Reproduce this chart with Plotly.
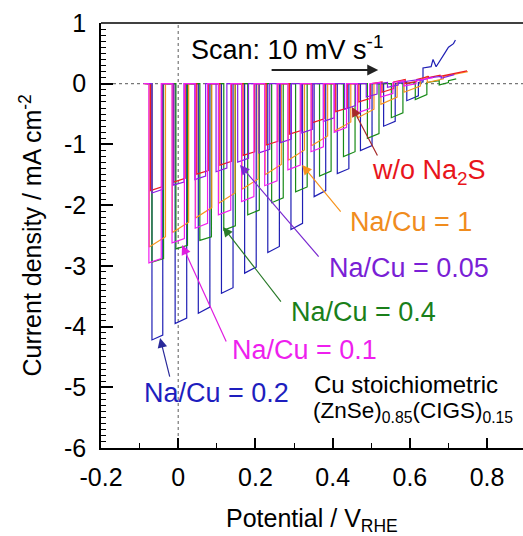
import plotly.graph_objects as go

# ---------------- data ----------------
# light-on / light-off potentials (V vs RHE), photocurrent at light on / off, dark current (mA cm-2)
blue_on = [-0.068, -0.008, 0.052, 0.112, 0.172, 0.232, 0.292, 0.352, 0.412, 0.472, 0.532, 0.592]
blue_off = [-0.040, 0.022, 0.082, 0.142, 0.202, 0.262, 0.322, 0.382, 0.442, 0.502, 0.562, 0.622]
blue_jon = [-4.22, -3.95, -3.78, -3.45, -3.12, -2.78, -2.40, -1.86, -1.48, -1.10, -0.70, -0.28]
blue_joff = [-4.14, -3.86, -3.68, -3.36, -3.02, -2.68, -2.30, -1.76, -1.40, -1.02, -0.62, -0.20]
blue_dark = [0.0, 0.0, 0.0, 0.0, 0.0, 0.0, 0.0, 0.0, 0.0, 0.0, 0.0, 0.02]
blue_lead_x, blue_lead_y = [-0.085], [0.0]
blue_tail_x = [0.634, 0.634, 0.655, 0.660, 0.668, 0.690, 0.700, 0.713, 0.718]
blue_tail_y = [0.03, 0.26, 0.28, 0.40, 0.28, 0.50, 0.60, 0.66, 0.72]

green_on = [-0.068, -0.006, 0.056, 0.118, 0.180, 0.242, 0.304, 0.366, 0.428, 0.490, 0.552, 0.614, 0.676]
green_off = [-0.038, 0.024, 0.086, 0.148, 0.210, 0.272, 0.334, 0.396, 0.458, 0.520, 0.582, 0.644, 0.700]
green_jon = [-2.94, -2.72, -2.58, -2.41, -2.16, -1.96, -1.78, -1.52, -1.20, -0.90, -0.56, -0.26, -0.02]
green_joff = [-2.88, -2.66, -2.52, -2.34, -2.08, -1.88, -1.70, -1.44, -1.12, -0.82, -0.48, -0.18, 0.02]
green_dark = [0.0, 0.0, 0.0, 0.0, 0.0, 0.0, 0.0, 0.0, 0.0, 0.0, 0.0, 0.02, 0.05]
green_lead_x, green_lead_y = [-0.082], [0.0]
green_tail_x, green_tail_y = [0.720], [0.08]

orange_on = [-0.075, -0.015, 0.045, 0.105, 0.165, 0.225, 0.285, 0.345, 0.405, 0.465, 0.525, 0.585, 0.645]
orange_off = [-0.033, 0.027, 0.087, 0.147, 0.207, 0.267, 0.327, 0.387, 0.447, 0.507, 0.567, 0.627, 0.687]
orange_jon = [-2.69, -2.45, -2.21, -1.97, -1.74, -1.50, -1.26, -1.02, -0.78, -0.56, -0.34, -0.14, 0.02]
orange_joff = [-2.52, -2.28, -2.04, -1.80, -1.57, -1.33, -1.09, -0.86, -0.63, -0.42, -0.22, -0.04, 0.08]
orange_dark = [0.0, 0.0, 0.0, 0.0, 0.0, 0.0, 0.0, 0.0, 0.0, 0.0, 0.02, 0.06, 0.12]
orange_lead_x, orange_lead_y = [-0.088], [0.0]
orange_tail_x, orange_tail_y = [0.750], [0.20]

red_on = [-0.072, -0.012, 0.048, 0.108, 0.168, 0.228, 0.288, 0.348, 0.408, 0.468, 0.528, 0.588, 0.648]
red_off = [-0.042, 0.018, 0.078, 0.138, 0.198, 0.258, 0.318, 0.378, 0.438, 0.498, 0.558, 0.618, 0.678]
red_jon = [-1.76, -1.62, -1.49, -1.34, -1.18, -1.01, -0.83, -0.64, -0.46, -0.30, -0.14, 0.00, 0.10]
red_joff = [-1.70, -1.56, -1.43, -1.28, -1.12, -0.95, -0.77, -0.58, -0.40, -0.24, -0.08, 0.04, 0.14]
red_dark = [0.0, 0.0, 0.0, 0.0, 0.0, 0.0, 0.0, 0.0, 0.0, 0.0, 0.03, 0.07, 0.12]
red_lead_x, red_lead_y = [-0.085], [0.0]
red_tail_x, red_tail_y = [0.748], [0.21]

purple_on = [-0.068, -0.013, 0.043, 0.098, 0.154, 0.209, 0.265, 0.320, 0.376, 0.431, 0.487, 0.542, 0.598, 0.653]
purple_off = [-0.040, 0.015, 0.071, 0.126, 0.182, 0.237, 0.293, 0.348, 0.404, 0.459, 0.515, 0.570, 0.626, 0.681]
purple_jon = [-1.80, -1.67, -1.58, -1.45, -1.29, -1.14, -0.97, -0.81, -0.62, -0.42, -0.22, -0.06, 0.04, 0.10]
purple_joff = [-1.74, -1.62, -1.52, -1.39, -1.23, -1.08, -0.91, -0.75, -0.56, -0.36, -0.17, -0.02, 0.07, 0.12]
purple_dark = [0.0, 0.0, 0.0, 0.0, 0.0, 0.0, 0.0, 0.0, 0.0, 0.0, 0.0, 0.02, 0.05, 0.09]
purple_lead_x, purple_lead_y = [-0.080], [0.0]
purple_tail_x, purple_tail_y = [0.715], [0.15]

magenta_on = [-0.076, -0.016, 0.044, 0.104, 0.164, 0.224, 0.284, 0.344, 0.404, 0.464, 0.524, 0.584]
magenta_off = [-0.044, 0.016, 0.076, 0.136, 0.196, 0.256, 0.316, 0.376, 0.436, 0.496, 0.556, 0.616]
magenta_jon = [-2.95, -2.62, -2.38, -2.16, -1.94, -1.68, -1.42, -1.12, -0.80, -0.48, -0.22, -0.04]
magenta_joff = [-2.88, -2.55, -2.30, -2.08, -1.86, -1.60, -1.34, -1.04, -0.72, -0.41, -0.16, 0.00]
magenta_dark = [0.0, 0.0, 0.0, 0.0, 0.0, 0.0, 0.0, 0.0, 0.0, 0.0, 0.02, 0.05]
magenta_lead_x, magenta_lead_y = [-0.090], [0.0]
magenta_tail_x, magenta_tail_y = [0.660], [0.10]

x_tickvals = [-0.2, 0, 0.2, 0.4, 0.6, 0.8]
x_ticktext = ["-0.2", "0", "0.2", "0.4", "0.6", "0.8"]
y_tickvals = [1, 0, -1, -2, -3, -4, -5, -6]
y_ticktext = ["1", "0", "-1", "-2", "-3", "-4", "-5", "-6"]


def chopped(lead_x, lead_y, on, off, jon, joff, dark, tail_x, tail_y):
    xs, ys = list(lead_x), list(lead_y)
    for i in range(len(on)):
        xs += [on[i], on[i], off[i], off[i]]
        ys += [dark[i], jon[i], joff[i], dark[i]]
    xs += tail_x
    ys += tail_y
    return xs, ys


series = [
    ("Na/Cu = 0.2", "#1f1fb4", blue_lead_x, blue_lead_y, blue_on, blue_off, blue_jon, blue_joff, blue_dark, blue_tail_x, blue_tail_y),
    ("Na/Cu = 0.4", "#178a17", green_lead_x, green_lead_y, green_on, green_off, green_jon, green_joff, green_dark, green_tail_x, green_tail_y),
    ("Na/Cu = 1", "#f7941d", orange_lead_x, orange_lead_y, orange_on, orange_off, orange_jon, orange_joff, orange_dark, orange_tail_x, orange_tail_y),
    ("w/o Na2S", "#ed1c24", red_lead_x, red_lead_y, red_on, red_off, red_jon, red_joff, red_dark, red_tail_x, red_tail_y),
    ("Na/Cu = 0.05", "#8a1ee6", purple_lead_x, purple_lead_y, purple_on, purple_off, purple_jon, purple_joff, purple_dark, purple_tail_x, purple_tail_y),
    ("Na/Cu = 0.1", "#f01ef0", magenta_lead_x, magenta_lead_y, magenta_on, magenta_off, magenta_jon, magenta_joff, magenta_dark, magenta_tail_x, magenta_tail_y),
]

fig = go.Figure()
for name, color, lx, ly, on, off, jon, joff, dark, tx, ty in series:
    xs, ys = chopped(lx, ly, on, off, jon, joff, dark, tx, ty)
    fig.add_trace(go.Scatter(x=xs, y=ys, mode="lines", name=name,
                             line=dict(color=color, width=1.2), showlegend=False))

FONT = "Liberation Sans, Arial, sans-serif"

# reference dashed lines
fig.add_shape(type="line", xref="paper", yref="y", x0=0, x1=1, y0=0, y1=0,
              line=dict(color="#777777", width=1.2, dash="dot"), layer="below")
fig.add_shape(type="line", xref="x", yref="paper", x0=0, x1=0, y0=0, y1=1,
              line=dict(color="#777777", width=1.2, dash="dot"), layer="below")
# top frame line
fig.add_shape(type="line", xref="paper", yref="paper", x0=0, x1=1, y0=1, y1=1,
              line=dict(color="black", width=1.5))

annots = [
    ("Scan: 10 mV s<sup>-1</sup>", 0.028, 0.588, "black", 27),
    ("w/o Na<sub>2</sub>S", 0.497, -1.454, "#e8151b", 27),
    ("Na/Cu = 1", 0.440, -2.278, "#f08c1e", 27),
    ("Na/Cu = 0.05", 0.385, -3.036, "#7a1fd6", 27),
    ("Na/Cu = 0.4", 0.287, -3.760, "#1a7f1a", 27),
    ("Na/Cu = 0.1", 0.134, -4.386, "#ee1fee", 27),
    ("Na/Cu = 0.2", -0.094, -5.095, "#1e1ebe", 27),
    ("Cu stoichiometric", 0.347, -4.946, "black", 24),
    ("(ZnSe)<sub>0.85</sub>(CIGS)<sub>0.15</sub>", 0.343, -5.410, "black", 22.5),
]
for t, x, y, c, s in annots:
    fig.add_annotation(x=x, y=y, xref="x", yref="y", text=t, showarrow=False,
                       xanchor="left", yanchor="middle",
                       font=dict(family=FONT, size=s, color=c))

arrows = [
    ((0.238, 0.226), (0.518, 0.226), "#222222", 2.0, 1.1),
    ((0.518, -1.207), (0.450, -0.384), "#a52a2a", 1.2, 1.6),
    ((0.424, -2.130), (0.321, -1.339), "#f7941d", 1.2, 1.6),
    ((0.367, -2.871), (0.160, -1.339), "#7a2ad0", 1.2, 1.6),
    ((0.269, -3.612), (0.116, -2.360), "#2a7a2a", 1.2, 1.6),
    ((0.126, -4.271), (0.010, -2.657), "#e01ee0", 1.2, 1.6),
    ((-0.021, -4.848), (-0.047, -4.189), "#2a2a9a", 1.2, 1.6),
]
for (axv, ayv), (xt, yt), c, w, sz in arrows:
    fig.add_annotation(x=xt, y=yt, ax=axv, ay=ayv, xref="x", yref="y", axref="x", ayref="y",
                       text="", showarrow=True, arrowhead=2, arrowsize=sz, arrowwidth=w,
                       arrowcolor=c, standoff=0, startstandoff=0)

# axis titles placed as annotations relative to the plot area
fig.add_annotation(text="Potential / V<sub>RHE</sub>", xref="paper", yref="paper",
                   x=0.5, y=0, xanchor="center", yanchor="middle", yshift=-72,
                   showarrow=False, font=dict(family=FONT, size=25, color="black"))
fig.add_annotation(text="Current density / mA cm<sup>-2</sup>", xref="paper", yref="paper",
                   x=0, y=0.5, xanchor="center", yanchor="middle", xshift=-71, textangle=-90,
                   showarrow=False, font=dict(family=FONT, size=25, color="black"))

fig.update_layout(
    width=523, height=536,
    margin=dict(l=101, r=0, t=23, b=88),
    paper_bgcolor="white", plot_bgcolor="white",
    font=dict(family=FONT, color="black"),
    xaxis=dict(range=[-0.2, 0.893], showgrid=False, zeroline=False, automargin=False,
               showline=True, linecolor="black", linewidth=1.5,
               tickvals=x_tickvals, ticktext=x_ticktext, ticks="inside", ticklen=10,
               tickwidth=1.5, tickcolor="black",
               minor=dict(dtick=0.1, ticks="inside", ticklen=5, tickcolor="black", tickwidth=1.2),
               tickfont=dict(size=25, family=FONT), ticklabelstandoff=6),
    yaxis=dict(range=[-6, 1], showgrid=False, zeroline=False, automargin=False,
               showline=True, linecolor="black", linewidth=1.5,
               tickvals=y_tickvals, ticktext=y_ticktext, ticks="inside", ticklen=12,
               tickwidth=1.5, tickcolor="black",
               minor=dict(dtick=0.1, ticks="inside", ticklen=5, tickcolor="black", tickwidth=1),
               tickfont=dict(size=25, family=FONT), ticklabelstandoff=8),
)

fig.write_html("out.html", config={"displayModeBar": False},
               post_script="document.body.style.margin='0px';document.body.style.padding='0px';"
                           "document.body.style.overflow='hidden';")
